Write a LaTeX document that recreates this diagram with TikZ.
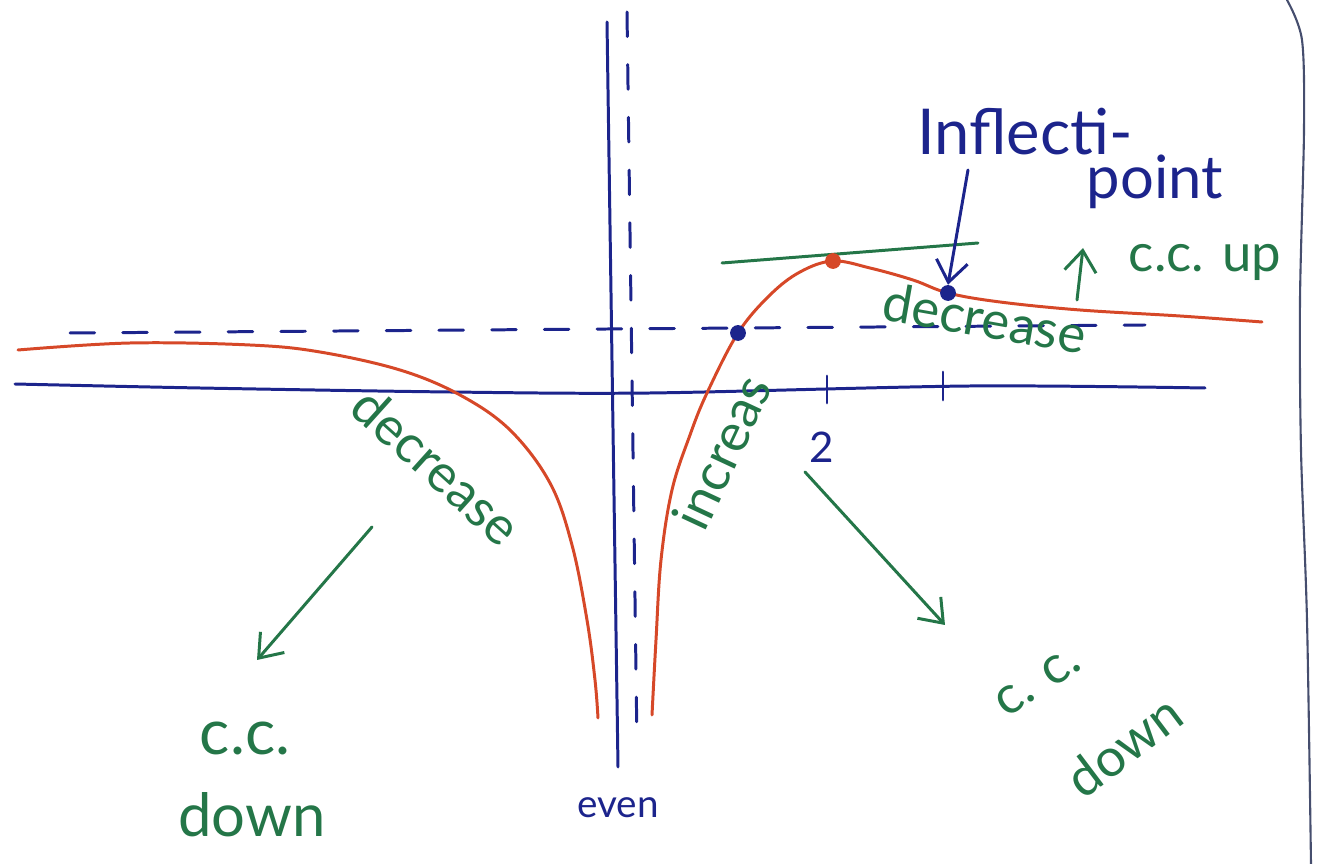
\documentclass[tikz,border=0pt]{standalone}
\usepackage{fontspec}
\setmainfont{Lato}
\usetikzlibrary{arrows.meta, positioning, calc}
\definecolor{penred}{RGB}{214,72,40}
\definecolor{penblue}{RGB}{28,36,140}
\definecolor{pengreen}{RGB}{36,118,72}
\definecolor{pengray}{RGB}{70,78,110}

\begin{document}
\begin{tikzpicture}[
    x=0.02cm, y=-0.02cm,
    every node/.style={font=\fontsize{30}{34}\selectfont},
    pen/.style={line width=1.7pt, line cap=round},
    axis/.style={pen, penblue},
    asym/.style={pen, penblue, dash pattern=on 14pt off 16pt},
    curve/.style={pen, penred},
    note/.style={pengreen},
    label/.style={penblue},
    dot/.style={circle, fill, inner sep=0pt, minimum size=9pt},
    pointer/.style={pen, -{Straight Barb[length=12pt, width=18pt, line width=1.7pt]}}
    ]
    \useasboundingbox (0,0) rectangle (1320,864);
    \draw[pen, pengray, line width=1.2pt] plot[smooth] coordinates {(1287,0) (1302,40) (1304,130) (1300,300) (1301,450) (1307,620) (1311,864)};
    \draw[axis] plot[smooth] coordinates {(15,384) (200,388) (450,392) (650,393) (970,386) (1205,388)};
    \draw[axis] (607,22) -- (618,767);
    \draw[asym] (627,12) -- (637,745);
    \draw[asym] (70,333) -- (1145,325);
    \draw[axis] (827,376) -- (827,403);
    \draw[axis] (943,372) -- (943,400);
    \draw[curve] plot[smooth, tension=0.6] coordinates {(18,350) (130,343) (250,345) (320,352) (400,370) (460,395) (510,430) (550,483) (572,545) (587,620) (595,680) (598,718)};
    \draw[curve] plot[smooth, tension=0.6] coordinates {(652,715) (656,640) (661,560) (672,490) (690,435) (707,393) (738,333) (770,295) (800,272) (833,261) (870,268) (913,280) (948,293) (1000,302) (1080,310) (1180,316) (1262,322)};
    \draw[pen, pengreen] (722,263) -- (978,243);
    \node[dot, penblue] (lowpt) at (738,333) {};
    \node[dot, penred] (peak) at (833,261) {};
    \node[dot, penblue] (inflpt) at (948,293) {};
    \node[label, font=\fontsize{22}{26}\selectfont] (even) at (618,808) {even};
    \node[label, font=\fontsize{24}{28}\selectfont] (two) at (822,447) {2};
    \node[label, font=\fontsize{36}{40}\selectfont] (infl) at (1025,132) {Inflecti-};
    \node[label, font=\fontsize{34}{38}\selectfont] (point) at (1155,182) {point};
    \node[note, rotate=-10] (decR) at (985,318) {decrease};
    \node[note] (ccup) at (1205,262) {c.c. up};
    \node[note, rotate=65] (incr) at (722,452) {increas};
    \node[note, rotate=-42] (decL) at (437,466) {decrease};
    \node[note, font=\fontsize{36}{40}\selectfont] (ccL) at (245,738) {c.c.};
    \node[note, font=\fontsize{34}{38}\selectfont] (downL) at (252,815) {down};
    \node[note, rotate=33] (ccR) at (1038,682) {c. c.};
    \node[note, rotate=37] (downR) at (1124,746) {down};
    \coordinate (inflfrom) at (968,170);
    \coordinate (upfrom) at (1077,300);
    \coordinate (upto) at (1083,248);
    \coordinate (leftfrom) at (372,527);
    \coordinate (leftto) at (257,660);
    \coordinate (rightfrom) at (805,472);
    \coordinate (rightto) at (945,625);
    \draw[pointer, penblue] (inflfrom) -- (inflpt.north);
    \draw[pointer, pengreen] (upfrom) -- (upto);
    \draw[pointer, pengreen] (leftfrom) -- (leftto);
    \draw[pointer, pengreen] (rightfrom) -- (rightto);
\end{tikzpicture}
\end{document}
